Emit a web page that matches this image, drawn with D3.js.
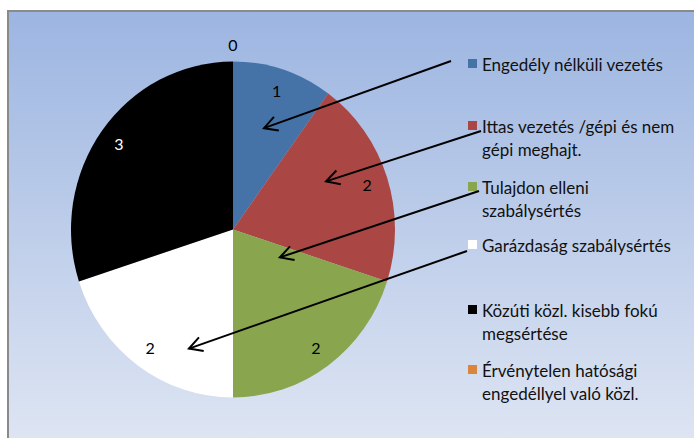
<!DOCTYPE html>
<html><head><meta charset="utf-8">
<script src="https://cdn.jsdelivr.net/npm/d3@7"></script>
<style>html,body{margin:0;padding:0;background:#fff;}svg{display:block;}</style>
</head><body>
<svg id="c" width="694" height="438"></svg>
<script>
// ---- data ----
const categories = [
  "Engedély nélküli vezetés",
  "Ittas vezetés /gépi és nem gépi meghajt.",
  "Tulajdon elleni szabálysértés",
  "Garázdaság szabálysértés",
  "Közúti közl. kisebb fokú megsértése",
  "Érvénytelen hatósági engedéllyel való közl."
];
const legendLines = [
  ["Engedély nélküli vezetés"],
  ["Ittas vezetés /gépi és nem", "gépi meghajt."],
  ["Tulajdon elleni", "szabálysértés"],
  ["Garázdaság szabálysértés"],
  ["Közúti közl. kisebb fokú", "megsértése"],
  ["Érvénytelen hatósági", "engedéllyel való közl."]
];
const values = [1, 2, 2, 2, 3, 0];
const colors = ["#4572a7", "#aa4643", "#89a54e", "#ffffff", "#000000", "#db843d"];
const labelColors = ["#000", "#000", "#000", "#000", "#fff", "#000"];
// arrows: legend item index -> tip inside the pie (angle deg from top, radius px)
const arrowItems = [0, 1, 2, 3];
const arrowTipAngle = [17.6, 63.5, 119.9, 201];
const arrowTipRadius = [102.5, 104, 54, 123];
const arrowStartOffset = [[-21.5, -3], [8.5, 5], [6.5, 4], [-5.5, 6]];

// ---- layout ----
const svg = d3.select("#c");
const W = 694, H = 438;
const cx = 233, cy = 229.5, R = 162, sy = 168 / 162;
const font = "Lato, 'Open Sans', sans-serif";

const defs = svg.append("defs");
const grad = defs.append("linearGradient").attr("id", "bg").attr("x1", 0).attr("y1", 0).attr("x2", 0).attr("y2", 1);
grad.append("stop").attr("offset", "0%").attr("stop-color", "#9cb5e1");
grad.append("stop").attr("offset", "100%").attr("stop-color", "#dfe6f3");

svg.append("rect").attr("x", 8).attr("y", 11).attr("width", W).attr("height", H).attr("fill", "url(#bg)");
svg.append("path").attr("d", `M8,${H} L8,11 L${W},11`).attr("fill", "none").attr("stroke", "#8a8a8a").attr("stroke-width", 2);

const pie = d3.pie().sort(null).value(d => d)(values);
const arc = d3.arc().innerRadius(0).outerRadius(R);
const gPie = svg.append("g").attr("transform", `translate(${cx},${cy}) scale(1,${sy})`);
gPie.selectAll("path").data(pie).join("path")
  .attr("d", arc).attr("fill", (d, i) => colors[i]);

// labels
const labelArc = d3.arc().innerRadius(141).outerRadius(141);
const zeroArc = d3.arc().innerRadius(178).outerRadius(178);
svg.selectAll("text.lbl").data(pie).join("text").attr("class", "lbl")
  .attr("x", (d, i) => cx + (d.value === 0 ? zeroArc : labelArc).centroid(d)[0])
  .attr("y", (d, i) => cy + (d.value === 0 ? zeroArc : labelArc).centroid(d)[1] * sy)
  .attr("text-anchor", "middle").attr("dominant-baseline", "central")
  .attr("font-family", font).attr("font-size", 16)
  .attr("fill", (d, i) => labelColors[i])
  .text(d => d.value);

// legend
const legendY = d3.scaleOrdinal().domain(d3.range(categories.length)).range([64, 126, 187, 245, 310, 370]);
const lg = svg.append("g");
categories.forEach((c, i) => {
  const y = legendY(i);
  lg.append("rect").attr("x", 468).attr("y", y - 5).attr("width", 9).attr("height", 9).attr("fill", colors[i]);
  const t = lg.append("text").attr("font-family", font).attr("font-size", 17).attr("fill", "#111");
  legendLines[i].forEach((ln, j) => {
    t.append("tspan").attr("x", 482).attr("y", y + j * 23).attr("dominant-baseline", "central").text(ln);
  });
});

// arrows
const ag = svg.append("g").attr("stroke", "#000").attr("stroke-width", 2).attr("fill", "none");
arrowItems.forEach((item, k) => {
  const a = arrowTipAngle[k] * Math.PI / 180;
  const tx = cx + arrowTipRadius[k] * Math.sin(a);
  const ty = cy - arrowTipRadius[k] * Math.cos(a) * sy;
  const fx = 472.5 + arrowStartOffset[k][0];
  const fy = legendY(item) + arrowStartOffset[k][1];
  ag.append("line").attr("x1", fx).attr("y1", fy).attr("x2", tx).attr("y2", ty);
  const ang = Math.atan2(fy - ty, fx - tx);
  const L = 15, sp = 0.5;
  const p1 = [tx + L * Math.cos(ang + sp), ty + L * Math.sin(ang + sp)];
  const p2 = [tx + L * Math.cos(ang - sp), ty + L * Math.sin(ang - sp)];
  ag.append("path").attr("d", `M${p1[0]},${p1[1]} L${tx},${ty} L${p2[0]},${p2[1]}`);
});
</script>
</body></html>
